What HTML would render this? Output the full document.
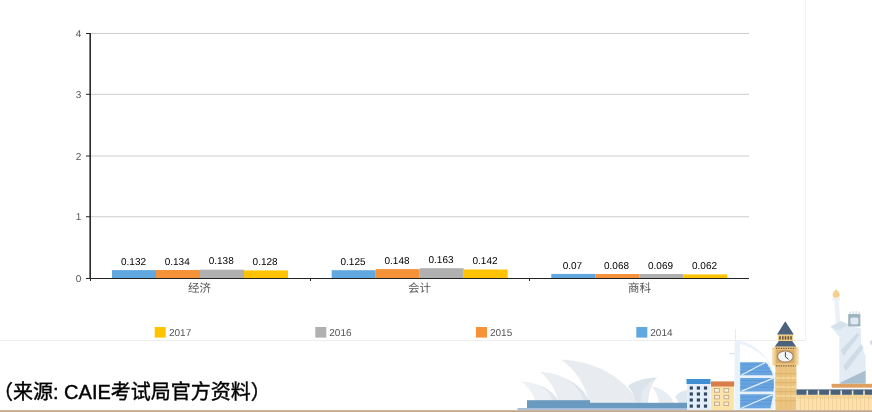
<!DOCTYPE html>
<html lang="zh">
<head>
<meta charset="utf-8">
<title>CAIE</title>
<style>
html,body{margin:0;padding:0;background:#fff;}
body{width:872px;height:412px;overflow:hidden;position:relative;font-family:"Liberation Sans","Noto Sans CJK SC",sans-serif;}
#panel{position:absolute;left:0;top:0;width:805px;height:340px;border-right:1px solid #f3f3f3;border-bottom:1px solid #ededed;box-sizing:content-box;}
#chart{position:absolute;left:0;top:0;}
#src{position:absolute;left:-7px;top:377.5px;font-size:20px;line-height:28px;color:#000;white-space:nowrap;letter-spacing:0;font-weight:400;-webkit-text-stroke:0.4px #000;}
#strip{position:absolute;left:0;top:409.6px;width:872px;height:2.4px;background:linear-gradient(#d8c6b2,#c4aa8e 45%,#c0a688);}
#city{position:absolute;left:0;top:0;}
svg text{font-family:"Liberation Sans","Noto Sans CJK SC",sans-serif;text-rendering:geometricPrecision;}
</style>
</head>
<body>
<div id="panel"></div>
<svg id="chart" width="872" height="412" viewBox="0 0 872 412">
  <!-- gridlines -->
  <g stroke="#ccc" stroke-width="1">
    <line x1="91" y1="33.5" x2="749" y2="33.5"/>
    <line x1="91" y1="94.3" x2="749" y2="94.3"/>
    <line x1="91" y1="156" x2="749" y2="156"/>
    <line x1="91" y1="216.75" x2="749" y2="216.75"/>
  </g>
  <!-- bars -->
  <g>
    <rect x="112" y="270.1" width="44" height="8.4" fill="#61a8e0"/>
    <rect x="156" y="270.0" width="44" height="8.5" fill="#f6933a"/>
    <rect x="200" y="269.7" width="44" height="8.8" fill="#b0b0b0"/>
    <rect x="244" y="270.4" width="44" height="8.1" fill="#ffc305"/>
    <rect x="331.7" y="270.2" width="44" height="8.3" fill="#61a8e0"/>
    <rect x="375.7" y="269.1" width="44" height="9.4" fill="#f6933a"/>
    <rect x="419.7" y="268.2" width="44" height="10.3" fill="#b0b0b0"/>
    <rect x="463.7" y="269.5" width="44" height="9.0" fill="#ffc305"/>
    <rect x="551.3" y="273.9" width="44" height="4.6" fill="#61a8e0"/>
    <rect x="595.3" y="274.0" width="44.4" height="4.5" fill="#f6933a"/>
    <rect x="639.7" y="274.0" width="43.6" height="4.5" fill="#b0b0b0"/>
    <rect x="683.3" y="274.4" width="44" height="4.1" fill="#ffc305"/>
  </g>
  <!-- axes -->
  <g stroke="#222" stroke-width="1">
    <line x1="86" y1="33.5" x2="90" y2="33.5"/>
    <line x1="86" y1="94.3" x2="90" y2="94.3"/>
    <line x1="86" y1="156" x2="90" y2="156"/>
    <line x1="86" y1="216.75" x2="90" y2="216.75"/>
    <line x1="86" y1="278.5" x2="749" y2="278.5"/>
    <line x1="90.5" y1="278" x2="90.5" y2="281"/>
    <line x1="310.5" y1="278" x2="310.5" y2="281"/>
    <line x1="529.5" y1="278" x2="529.5" y2="281"/>
  </g>
  <rect x="89.4" y="33" width="1.6" height="246" fill="#2a2a2a"/>
  <!-- y labels -->
  <g font-size="10" fill="#555" text-anchor="end">
    <text x="81.3" y="37">4</text>
    <text x="81.3" y="98">3</text>
    <text x="81.3" y="159.6">2</text>
    <text x="81.3" y="220.1">1</text>
    <text x="81.3" y="282">0</text>
  </g>
  <!-- x labels -->
  <g font-size="11.5" fill="#555" text-anchor="middle">
    <text x="199.6" y="292">经济</text>
    <text x="419.4" y="292">会计</text>
    <text x="639.4" y="292">商科</text>
  </g>
  <!-- value labels -->
  <g font-size="10" fill="#000" text-anchor="middle">
    <text x="133.5" y="265">0.132</text>
    <text x="177.2" y="265">0.134</text>
    <text x="221.2" y="264">0.138</text>
    <text x="265.1" y="265">0.128</text>
    <text x="353" y="265">0.125</text>
    <text x="397" y="264">0.148</text>
    <text x="441" y="263">0.163</text>
    <text x="485" y="264">0.142</text>
    <text x="572.4" y="268.8">0.07</text>
    <text x="616.5" y="268.8">0.068</text>
    <text x="660.5" y="268.8">0.069</text>
    <text x="704.5" y="268.8">0.062</text>
  </g>
  <!-- legend -->
  <g>
    <rect x="154.7" y="327" width="11" height="10.6" fill="#ffc400"/>
    <rect x="315.3" y="327" width="11" height="10.6" fill="#b0b0b0"/>
    <rect x="476" y="327" width="11" height="10.6" fill="#f6933a"/>
    <rect x="636.3" y="327" width="11" height="10.6" fill="#61a8e0"/>
  </g>
  <g font-size="10" fill="#555">
    <text x="169" y="336">2017</text>
    <text x="329.3" y="336">2016</text>
    <text x="490" y="336">2015</text>
    <text x="650.3" y="336">2014</text>
  </g>
</svg>

<svg id="city" width="872" height="412" viewBox="0 0 872 412">
  <!-- Sydney opera house -->
  <g id="opera">
    <path d="M521 381.5 C537 382 552 389 558 401 L535 401 C533 393 528 386 521 381.5Z" fill="#edf0f4"/>
    <path d="M540 385.6 C548 389 554.4 394 558 401 L553 401 C551 395 546.6 389.6 540 385.6Z" fill="#e0e6ec"/>
    <path d="M540 372 C562 373 582 384 589 401 L558 401 C556 390 549 379 540 372Z" fill="#eaeef3"/>
    <path d="M566 378.6 C577 384 585 391.6 589 401 L584 401 C581 392.4 575 384.6 566 378.6Z" fill="#dde4eb"/>
    <path d="M561 359.5 C596 361 626 378 638 403 L589 403 C586 386 576 370 561 359.5Z" fill="#e8ecf1"/>
    <path d="M657 377.5 C643 378 632 382 628 386 C632 391 635 397 636 403 L648 403 C648 393 651 384 657 377.5Z" fill="#dce4eb"/>
    <path d="M657 377.5 C649 382 643.5 388 641.5 394 C641 397 641 400 641 403 L648 403 C648 393 651 384 657 377.5Z" fill="#e6ebf1"/>
    <path d="M652 386.5 C662 388 670 394 674 403 L659 403 C658 397 656 391 652 386.5Z" fill="#e8edf2"/>
    <path d="M687 390 C681 391 677 394 675 397 C677 399 678 401 678 403 L687 403Z" fill="#dfe8ee"/>
    <rect x="527" y="400.2" width="63" height="8" fill="#6a9abf"/>
    <rect x="589" y="402.8" width="98" height="5.4" fill="#6a9abf"/>
    <rect x="517.5" y="408" width="170" height="2" fill="#a9bfdc"/>
  </g>
  <!-- building 1 -->
  <g id="b1">
    <rect x="687" y="384" width="23.5" height="26" fill="#e4eefa"/>
    <rect x="686.5" y="379" width="24" height="5" fill="#3f8fd2"/>
    <g fill="#34495f">
      <rect x="689.7" y="386.4" width="3.2" height="3.2"/><rect x="696.8" y="386.4" width="3.2" height="3.2"/><rect x="703.9" y="386.4" width="3.2" height="3.2"/>
      <rect x="689.7" y="392.4" width="3.2" height="3.2"/><rect x="696.8" y="392.4" width="3.2" height="3.2"/><rect x="703.9" y="392.4" width="3.2" height="3.2"/>
      <rect x="689.7" y="398.4" width="3.2" height="3.2"/><rect x="696.8" y="398.4" width="3.2" height="3.2"/><rect x="703.9" y="398.4" width="3.2" height="3.2"/>
      <rect x="689.7" y="404.5" width="3.2" height="3.2"/><rect x="696.8" y="404.5" width="3.2" height="3.2"/><rect x="703.9" y="404.5" width="3.2" height="3.2"/>
    </g>
  </g>
  <!-- building 2 -->
  <g id="b2">
    <rect x="711" y="386" width="23" height="24" fill="#fbe4a8"/>
    <rect x="711" y="381.4" width="23.3" height="5.1" fill="#d77c4b"/>
    <g fill="#f6ecd8" stroke="#b89878" stroke-width="0.7">
      <rect x="714.6" y="388.6" width="4.8" height="3.6"/><rect x="724" y="388.6" width="4.8" height="3.6"/>
      <rect x="714.6" y="395.3" width="4.8" height="3.6"/><rect x="724" y="395.3" width="4.8" height="3.6"/>
      <rect x="714.6" y="402" width="4.8" height="3.6"/><rect x="724" y="402" width="4.8" height="3.6"/>
    </g>
  </g>
  <!-- Burj al arab -->
  <g id="burj">
    <rect x="735" y="329" width="0.8" height="14" fill="#dfe6f0"/>
    <rect x="729" y="353.2" width="10" height="0.9" fill="#d5dde8"/>
    <path d="M734.6 340 C752 341 770 356 776 378 C777.4 390 776 402 773.4 410 L734.6 410Z" fill="#e9f1fa"/>
    <path d="M739.8 343.4 C752 347 763 354.4 768.4 362 L739.8 362Z" fill="#ffffff"/>
    <path d="M740.2 362.2 L765.6 362.2 C769 366.4 771.6 371 772.8 375.2 L740.2 375.2Z" fill="#68a4e0"/>
    <path d="M740.2 378.1 L773.4 378.1 C774 382.6 774 387.4 773.4 391.5 L740.2 391.5Z" fill="#68a4e0"/>
    <path d="M740.2 394.3 L773 394.3 C772.4 399 771.4 404 770.4 408.2 L740.2 408.2Z" fill="#68a4e0"/>
    <g stroke="#5893d6" stroke-width="0.9" opacity="0.75">
      <line x1="740.2" y1="364.8" x2="768" y2="364.8"/><line x1="740.2" y1="368.2" x2="770.2" y2="368.2"/><line x1="740.2" y1="371.6" x2="771.8" y2="371.6"/>
      <line x1="740.2" y1="380.6" x2="773.6" y2="380.6"/><line x1="740.2" y1="384" x2="773.8" y2="384"/><line x1="740.2" y1="387.4" x2="773.8" y2="387.4"/>
      <line x1="740.2" y1="397" x2="772.6" y2="397"/><line x1="740.2" y1="400.4" x2="772" y2="400.4"/><line x1="740.2" y1="403.8" x2="771.2" y2="403.8"/>
    </g>
    <g stroke="#e2eefb" stroke-width="1.3">
      <line x1="741.6" y1="375" x2="765" y2="362.6"/>
      <line x1="741.6" y1="391.2" x2="773" y2="378.4"/>
      <line x1="741.6" y1="408" x2="772.4" y2="394.8"/>
    </g>
  </g>
  <!-- Big Ben -->
  <g id="bigben">
    <rect x="775.4" y="366" width="21" height="44" fill="#eac480"/>
    <g fill="#e0b56c">
      <rect x="775.4" y="373" width="21" height="1.2"/><rect x="775.4" y="382" width="21" height="1.2"/>
      <rect x="775.4" y="391" width="21" height="1.2"/><rect x="775.4" y="400" width="21" height="1.2"/>
    </g>
    <g fill="#f3d598">
      <rect x="775.4" y="377" width="21" height="2"/><rect x="775.4" y="386" width="21" height="2"/><rect x="775.4" y="395" width="21" height="2"/>
    </g>
    <g fill="#e3b872" opacity="0.7">
      <rect x="780.6" y="367" width="0.8" height="43"/><rect x="785.5" y="367" width="0.8" height="43"/><rect x="790.4" y="367" width="0.8" height="43"/>
    </g>
    <rect x="772.2" y="347.4" width="26.4" height="18" fill="#f4dba6"/>
    <rect x="774.6" y="346.4" width="21.8" height="20.4" fill="#ebc47e"/>
    <rect x="776.3" y="349.8" width="18" height="13.6" fill="#d9ac66"/>
    <line x1="776" y1="348.4" x2="795.6" y2="348.4" stroke="#7a5c34" stroke-width="1.2" stroke-dasharray="1.3 1.1"/>
    <line x1="776" y1="365.8" x2="795.6" y2="365.8" stroke="#7a5c34" stroke-width="1.2" stroke-dasharray="1.3 1.1"/>
    <ellipse cx="785.3" cy="356.5" rx="7.9" ry="5.6" fill="#f6f6f6" stroke="#a58a66" stroke-width="1.2"/>
    <path d="M785.4 352.2 L785.4 356.8 L788.6 359.4" fill="none" stroke="#34445a" stroke-width="1"/>
    <path d="M779 340.8 L792 340.8 L796.2 346.6 L774.8 346.6Z" fill="#4d627a"/>
    <rect x="778" y="334.4" width="15" height="6.6" fill="#f0cd88"/>
    <g fill="#6a5234">
      <rect x="779.2" y="336.2" width="1.6" height="3.4"/><rect x="782" y="336.2" width="1.6" height="3.4"/><rect x="784.7" y="336.2" width="1.6" height="3.4"/><rect x="787.5" y="336.2" width="1.6" height="3.4"/><rect x="790.2" y="336.2" width="1.6" height="3.4"/>
    </g>
    <path d="M785.3 321.3 L793.8 334.6 L777 334.6Z" fill="#4d627a"/>
  </g>
  <!-- Westminster -->
  <g id="west">
    <rect x="796.5" y="394.5" width="76" height="15.7" fill="#fae1ae"/>
    <rect x="796.5" y="394.8" width="76" height="4" fill="#f3d08a" opacity="0.7"/>
    <g fill="#efc988" opacity="0.55">
      <rect x="800" y="396" width="1" height="14"/><rect x="804" y="396" width="1" height="14"/><rect x="808" y="396" width="1" height="14"/><rect x="812" y="396" width="1" height="14"/><rect x="816" y="396" width="1" height="14"/><rect x="820" y="396" width="1" height="14"/><rect x="824" y="396" width="1" height="14"/><rect x="828" y="396" width="1" height="14"/><rect x="832" y="396" width="1" height="14"/><rect x="836" y="396" width="1" height="14"/><rect x="840" y="396" width="1" height="14"/><rect x="844" y="396" width="1" height="14"/><rect x="848" y="396" width="1" height="14"/><rect x="852" y="396" width="1" height="14"/><rect x="856" y="396" width="1" height="14"/><rect x="860" y="396" width="1" height="14"/><rect x="864" y="396" width="1" height="14"/><rect x="868" y="396" width="1" height="14"/>
    </g>
    <rect x="796.5" y="389.4" width="76" height="5.4" fill="#4a617c"/>
    <g fill="#f6e6c4">
      <rect x="806.5" y="390.4" width="1.6" height="5"/><rect x="817.6" y="390.4" width="1.6" height="5"/><rect x="829" y="390.4" width="1.6" height="5"/><rect x="840.4" y="390.4" width="1.6" height="5"/><rect x="851.8" y="390.4" width="1.6" height="5"/><rect x="863.2" y="390.4" width="1.6" height="5"/>
    </g>
  </g>
  <!-- Liberty -->
  <g id="liberty">
    <path d="M834.4 300.6 L839 300.6 L840.4 325 L835.8 325Z" fill="#eef0f8"/>
    <path d="M832.6 295 C832.6 292.4 834.4 291 836.2 289.6 C838 291 839.8 292.4 839.8 295 C839.8 297 838.2 298.2 836.2 298.2 C834.2 298.2 832.6 297 832.6 295Z" fill="#f5cf8c"/>
    <rect x="832.4" y="297.6" width="7.6" height="3.2" rx="1" fill="#eef0f4"/>
    <path d="M830.6 326.4 L841 321.2 L852 326 L861 328.4 L861 345 L865.6 356 L865.6 383.6 L839.4 383.6 L839.4 337 Z" fill="#e3ecf4"/>
    <path d="M830.6 326.4 L841 321.2 L849 324.6 L838 330.4Z" fill="#d6e2ea"/>
    <path d="M841 350 L857 333 L859.6 335 L843.4 356Z" fill="#c9d8e4" opacity="0.8"/>
    <path d="M843 366 L861.4 344 L863.6 348 L846 371Z" fill="#c9d8e4" opacity="0.8"/>
    <path d="M840.4 382.4 L865.6 370.6 L865.6 383.8 L840.4 383.8Z" fill="#a9bfd0"/>
    <rect x="848.2" y="314" width="12.2" height="12.4" fill="#9fb2c0"/>
    <rect x="850.4" y="317.6" width="8" height="6.8" rx="1.6" fill="#dfe8ef"/>
    <g fill="#c4d0da"><rect x="849.6" y="311.6" width="1" height="2.8"/><rect x="852.6" y="311" width="1" height="3.4"/><rect x="855.6" y="311" width="1" height="3.4"/><rect x="858.6" y="311.6" width="1" height="2.8"/></g>
    <path d="M872 340 L869.6 341.6 L870.4 344.6 L872 345Z" fill="#d6dde6"/>
    <rect x="831.6" y="383.8" width="40.4" height="3.9" fill="#dea060"/>
  </g>
</svg>
<div id="src">（来源: CAIE考试局官方资料）</div>
<div id="strip"></div>
</body>
</html>
